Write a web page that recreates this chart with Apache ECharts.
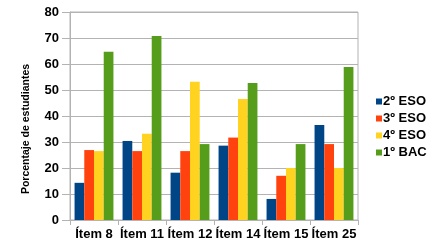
<!DOCTYPE html>
<html>
<head>
<meta charset="utf-8">
<script src="https://cdn.jsdelivr.net/npm/echarts@6/dist/echarts.min.js"></script>
<style>
  html, body { margin: 0; padding: 0; background: #fff; }
  #chart { width: 441px; height: 249px; }
</style>
</head>
<body>
<div id="chart"></div>
<script>
const categories = ['Ítem 8', 'Ítem 11', 'Ítem 12', 'Ítem 14', 'Ítem 15', 'Ítem 25'];
const eso2 = [14.3, 30.4, 18.2, 28.6, 8.1, 36.5];
const eso3 = [26.9, 26.5, 26.5, 31.7, 17.0, 29.2];
const eso4 = [26.5, 33.2, 53.2, 46.5, 20.0, 20.0];
const bac1 = [64.7, 70.8, 29.2, 52.7, 29.2, 58.8];

const font = 'Liberation Sans, Arial, sans-serif';
const gridColor = '#b3b3b3';

const chart = echarts.init(document.getElementById('chart'));

const option = {
  animation: false,
  color: ['#004586', '#ff420e', '#ffd320', '#579d1c'],
  grid: {
    left: 70,
    top: 12,
    right: 83,
    bottom: 29,
    show: true,
    borderColor: gridColor,
    borderWidth: 1
  },
  legend: {
    orient: 'vertical',
    left: 371,
    top: 90,
    itemWidth: 6,
    itemHeight: 6,
    itemGap: 4,
    icon: 'rect',
    textStyle: {
      fontFamily: font,
      fontWeight: 'bold',
      fontSize: 13,
      lineHeight: 13,
      color: '#000',
      padding: [0, 0, 0, -4]
    },
    data: ['2º ESO', '3º ESO', '4º ESO', '1º BAC']
  },
  xAxis: {
    type: 'category',
    data: categories,
    axisLine: { lineStyle: { color: gridColor } },
    axisTick: { show: true, length: 5, lineStyle: { color: gridColor } },
    axisLabel: {
      fontFamily: font,
      fontWeight: 'bold',
      fontSize: 13,
      color: '#000',
      margin: 8,
      interval: 0
    }
  },
  yAxis: {
    type: 'value',
    min: 0,
    max: 80,
    interval: 10,
    name: 'Porcentaje de estudiantes',
    nameLocation: 'middle',
    nameRotate: 90,
    nameGap: 38,
    nameTextStyle: {
      fontFamily: font,
      fontWeight: 'bold',
      fontSize: 10.5,
      color: '#000',
      padding: [0, 26, 0, 0]
    },
    axisLine: { show: true, lineStyle: { color: gridColor } },
    axisTick: { show: true, length: 8, lineStyle: { color: gridColor } },
    splitLine: { lineStyle: { color: gridColor } },
    axisLabel: {
      fontFamily: font,
      fontWeight: 'bold',
      fontSize: 13,
      color: '#000',
      margin: 11
    }
  },
  series: [
    { name: '2º ESO', type: 'bar', data: eso2, barGap: '0%', barCategoryGap: '19%' },
    { name: '3º ESO', type: 'bar', data: eso3, barGap: '0%', barCategoryGap: '19%' },
    { name: '4º ESO', type: 'bar', data: eso4, barGap: '0%', barCategoryGap: '19%' },
    { name: '1º BAC', type: 'bar', data: bac1, barGap: '0%', barCategoryGap: '19%' }
  ]
};

chart.setOption(option);
</script>
</body>
</html>
